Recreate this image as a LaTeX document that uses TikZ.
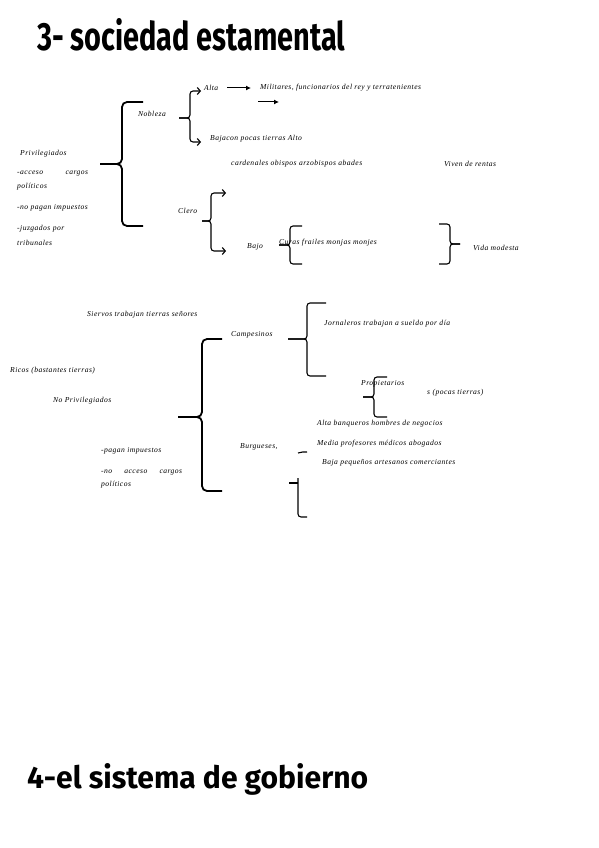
\documentclass[tikz,border=0pt]{standalone}
\usepackage{fontspec}
\setmainfont{Liberation Serif}
\newfontfamily\titlefont{Fira Sans}
\newfontfamily\notefont[LetterSpace=6]{Liberation Serif}
\usetikzlibrary{arrows.meta}

\begin{document}
\begin{tikzpicture}[x=1pt, y=-1pt,
  title/.style={anchor=base west, inner sep=0pt, font=\titlefont\bfseries},
  note/.style={anchor=west, inner sep=0pt, font=\notefont\itshape\fontsize{7.6}{8}\selectfont},
  curl/.style={line width=1.8, rounded corners=5pt},
  smallcurl/.style={line width=1.1, rounded corners=3pt},
  branch/.style={line width=1.1, rounded corners=3pt, -{Straight Barb[length=3pt, width=7pt]}},
  pointer/.style={line width=1, -{Latex[length=5pt, width=5pt]}}]

  \useasboundingbox (0,0) rectangle (599,848);

  % titles
  \node [title] (head3) at (37,51) {\resizebox{308pt}{32pt}{3- sociedad estamental}};
  \node [title] (head4) at (27,788) {\resizebox{341pt}{25pt}{4-el sistema de gobierno}};

  % privilegiados
  \node [note] (priv) at (20,154) {Privilegiados};
  \node [note] (acc) at (17,174) {\makebox[71pt][s]{-acceso cargos}};
  \node [note] (pol-a) at (17,187) {políticos};
  \node [note] (nopag) at (17,208) {-no pagan impuestos};
  \node [note] (juz) at (17,229) {-juzgados por};
  \node [note] (trib) at (17,243) {tribunales};

  \node [note] (nobleza) at (138,114) {Nobleza};
  \node [note] (alta) at (204,88) {Alta};
  \node [note] (mil) at (260,88) {Militares, funcionarios del rey y terratenientes};
  \node [note] (bajan) at (210,139) {Bajacon pocas tierras Alto};
  \node [note] (card) at (231,164) {cardenales obispos arzobispos abades};
  \node [note] (rentas) at (444,164) {Viven de rentas};
  \node [note] (clero) at (178,211) {Clero};
  \node [note] (bajo) at (247,247) {Bajo};
  \node [note] (curas) at (279,243) {Curas frailes monjas monjes};
  \node [note] (vida) at (473,248) {Vida modesta};

  % no privilegiados
  \node [note] (siervos) at (87,315) {Siervos trabajan tierras señores};
  \node [note] (campes) at (231,335) {Campesinos};
  \node [note] (ricos) at (10,371) {Ricos (bastantes tierras)};
  \node [note] (nopriv) at (53,401) {No Privilegiados};
  \node [note] (pagan) at (101,451) {-pagan impuestos};
  \node [note] (noacc) at (101,473) {\makebox[81pt][s]{-no acceso cargos}};
  \node [note] (pol-b) at (101,485) {políticos};
  \node [note] (burg) at (240,447) {Burgueses,};
  \node [note] (jorn) at (324,324) {Jornaleros trabajan a sueldo por día};
  \node [note] (prop) at (361,384) {Propietarios};
  \node [note] (pocas) at (427,393) {s (pocas tierras)};
  \node [note] (altab) at (317,424) {Alta banqueros hombres de negocios};
  \node [note] (media) at (317,444) {Media profesores médicos abogados};
  \node [note] (bajab) at (322,463) {Baja pequeños artesanos comerciantes};

  % braces
  \foreach \tx/\ty/\vx/\ya/\yb/\ax in {100/164/122/102/226/143, 178/417/202/339/491/222}
  {
    \draw [curl] (\ax,\ya) -- (\vx,\ya) -- (\vx,\ty) -- (\tx,\ty);
    \draw [curl] (\tx,\ty) -- (\vx,\ty) -- (\vx,\yb) -- (\ax,\yb);
  }
  \foreach \tx/\ty/\vx/\ya/\yb/\ax in {288/339/307/303/376/326, 363/397/374/377/417/387,
                                       279/245/290/226/264/302, 460/244/450/224/264/439}
  {
    \draw [smallcurl] (\ax,\ya) -- (\vx,\ya) -- (\vx,\ty) -- (\tx,\ty);
    \draw [smallcurl] (\tx,\ty) -- (\vx,\ty) -- (\vx,\yb) -- (\ax,\yb);
  }
  \draw [smallcurl] (289,483) -- (298,483);
  \draw [smallcurl] (298,478) -- (298,517) -- (307,517);
  \draw [line width=1.1] (298,453) to[bend left=10] (307,452);

  % branches
  \foreach \y in {91,142}
    \draw [branch] (179,118) -- (190,118) -- (190,\y) -- (201,\y);
  \foreach \y in {193,251}
    \draw [branch] (202,221) -- (211,221) -- (211,\y) -- (226,\y);

  % arrows
  \draw [pointer, shorten <=9pt, shorten >=9pt] (alta) -- (mil);
  \coordinate (free-a) at (258,102);
  \coordinate (free-b) at (279,102);
  \draw [pointer] (free-a) -- (free-b);

\end{tikzpicture}
\end{document}
